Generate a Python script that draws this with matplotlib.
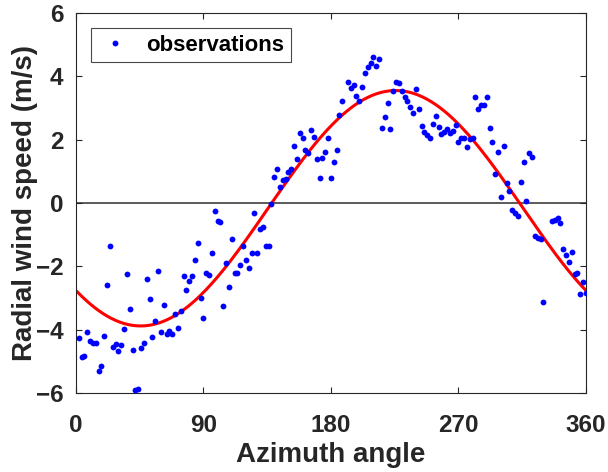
import numpy as np
import matplotlib
matplotlib.use("Agg")
import matplotlib.pyplot as plt

azimuth = [
    2, 4, 6, 8, 10, 12, 14, 16, 18, 20, 22, 24, 26, 28, 30, 32, 34, 36, 38, 40,
    42, 44, 46, 48, 50, 52, 54, 56, 58, 60, 62, 64, 66, 68, 70, 72, 74, 76, 78, 80,
    82, 84, 86, 88, 90, 92, 94, 96, 98, 100, 102, 104, 106, 108, 110, 112, 114, 116, 118, 120,
    122, 124, 126, 128, 130, 132, 134, 136, 138, 140, 142, 144, 146, 148, 150, 152, 154, 156, 158, 160,
    162, 164, 166, 168, 170, 172, 174, 176, 178, 180, 182, 184, 186, 188, 192, 194, 196, 198, 200, 202,
    204, 206, 208, 210, 212, 214, 216, 218, 220, 222, 224, 226, 228, 230, 232, 234, 236, 238, 240, 242,
    244, 246, 248, 250, 252, 254, 256, 258, 260, 262, 264, 266, 268, 270, 272, 274, 276, 278, 280, 282,
    284, 286, 288, 290, 292, 294, 296, 298, 300, 302, 304, 306, 308, 310, 312, 314, 316, 318, 320, 322,
    324, 326, 328, 330, 336, 338, 340, 342, 344, 346, 348, 350, 352, 354, 356, 358, 360,
]
radial_speed = [
    -4.27, -4.85, -4.83, -4.07, -4.35, -4.41, -4.43, -5.30, -5.16, -4.20,
    -2.58, -1.35, -4.54, -4.45, -4.67, -4.49, -3.97, -2.23, -3.36, -4.64,
    -5.90, -5.86, -4.59, -4.43, -2.41, -3.02, -4.22, -3.73, -2.16, -4.07,
    -3.21, -4.15, -4.03, -4.15, -3.51, -3.96, -3.40, -2.29, -2.74, -2.47,
    -2.29, -1.81, -1.26, -3.00, -3.63, -2.22, -2.26, -1.58, -0.26, -0.56,
    -0.61, -3.26, -1.88, -2.66, -1.13, -2.20, -2.20, -1.97, -1.35, -1.80,
    -2.05, -1.59, -0.31, -1.59, -0.82, -0.75, -1.36, -1.36, -0.03, 0.81,
    1.08, 0.51, 0.73, 0.75, 0.97, 1.06, 1.79, 1.38, 2.20, 2.06,
    1.68, 1.57, 2.30, 2.09, 1.38, 0.79, 1.41, 1.61, 2.05, 0.79,
    1.29, 1.66, 2.77, 3.23, 3.83, 3.64, 3.73, 3.39, 3.21, 3.66,
    4.11, 4.28, 4.43, 4.62, 4.33, 4.54, 2.38, 2.71, 3.17, 2.33,
    3.55, 3.83, 3.78, 3.55, 3.36, 3.22, 3.03, 2.83, 3.59, 2.97,
    2.43, 2.25, 2.14, 2.04, 2.50, 2.75, 2.39, 2.18, 2.25, 2.33,
    2.21, 2.28, 2.45, 1.93, 2.05, 2.05, 1.78, 2.03, 2.04, 3.36,
    2.98, 3.09, 3.10, 3.34, 2.36, 1.92, 0.92, 1.60, 0.18, 1.80,
    0.64, 0.39, -0.22, -0.33, -0.42, 0.65, 1.29, 0.06, 1.59, 1.45,
    -1.04, -1.11, -1.15, -3.14, -0.56, -0.54, -0.48, -0.64, -1.44, -1.63,
    -1.86, -1.55, -2.24, -2.22, -2.87, -2.50, -2.83,
]

az = np.array(azimuth, dtype=float)
vr = np.array(radial_speed)

# least-squares sine fit  vr = a + b*cos(az) + c*sin(az)
A = np.column_stack([np.ones_like(az), np.cos(np.radians(az)), np.sin(np.radians(az))])
coef, *_ = np.linalg.lstsq(A, vr, rcond=None)
az_fit = np.linspace(0, 360, 361)
vr_fit = coef[0] + coef[1] * np.cos(np.radians(az_fit)) + coef[2] * np.sin(np.radians(az_fit))

plt.rcParams['font.family'] = ['Liberation Sans', 'DejaVu Sans']
plt.rcParams['font.weight'] = 'bold'

fig = plt.figure(figsize=(6.08, 4.72), dpi=100)
ax = fig.add_axes([0.125, 0.1674, 0.8388, 0.8051])

ax.axhline(0, color='0.3', lw=1.3, zorder=1)
ax.plot(az, vr, 'o', color='blue', markersize=4.2, markeredgewidth=0,
        label='observations', zorder=3)
ax.plot(az_fit, vr_fit, color='red', lw=2.2, zorder=2)

ax.set_xlim(0, 360)
ax.set_ylim(-6, 6)
ax.set_xticks([0, 90, 180, 270, 360])
ax.set_yticks([-6, -4, -2, 0, 2, 4, 6])
ax.tick_params(direction='in', length=4, width=0.8, labelsize=17.5,
               top=True, right=True, colors='0.15')
ax.tick_params(axis='x', pad=15)
ax.tick_params(axis='y', pad=9)
for s in ax.spines.values():
    s.set_color('0.15')
    s.set_linewidth(0.8)

ax.set_xlabel('Azimuth angle', fontsize=20, fontweight='bold', color='0.15', labelpad=3.5)
ax.set_ylabel('Radial wind speed (m/s)', fontsize=20, fontweight='bold', color='0.15', labelpad=-1.5)

leg = ax.legend(loc='upper left', fontsize=16, frameon=True, fancybox=False,
                edgecolor='0.1', borderpad=0.3, borderaxespad=0,
                handlelength=1.6, handletextpad=0.6,
                bbox_to_anchor=(0.0294, 0.9605))
leg.get_frame().set_linewidth(0.8)

fig.savefig('out.png', dpi=100)
